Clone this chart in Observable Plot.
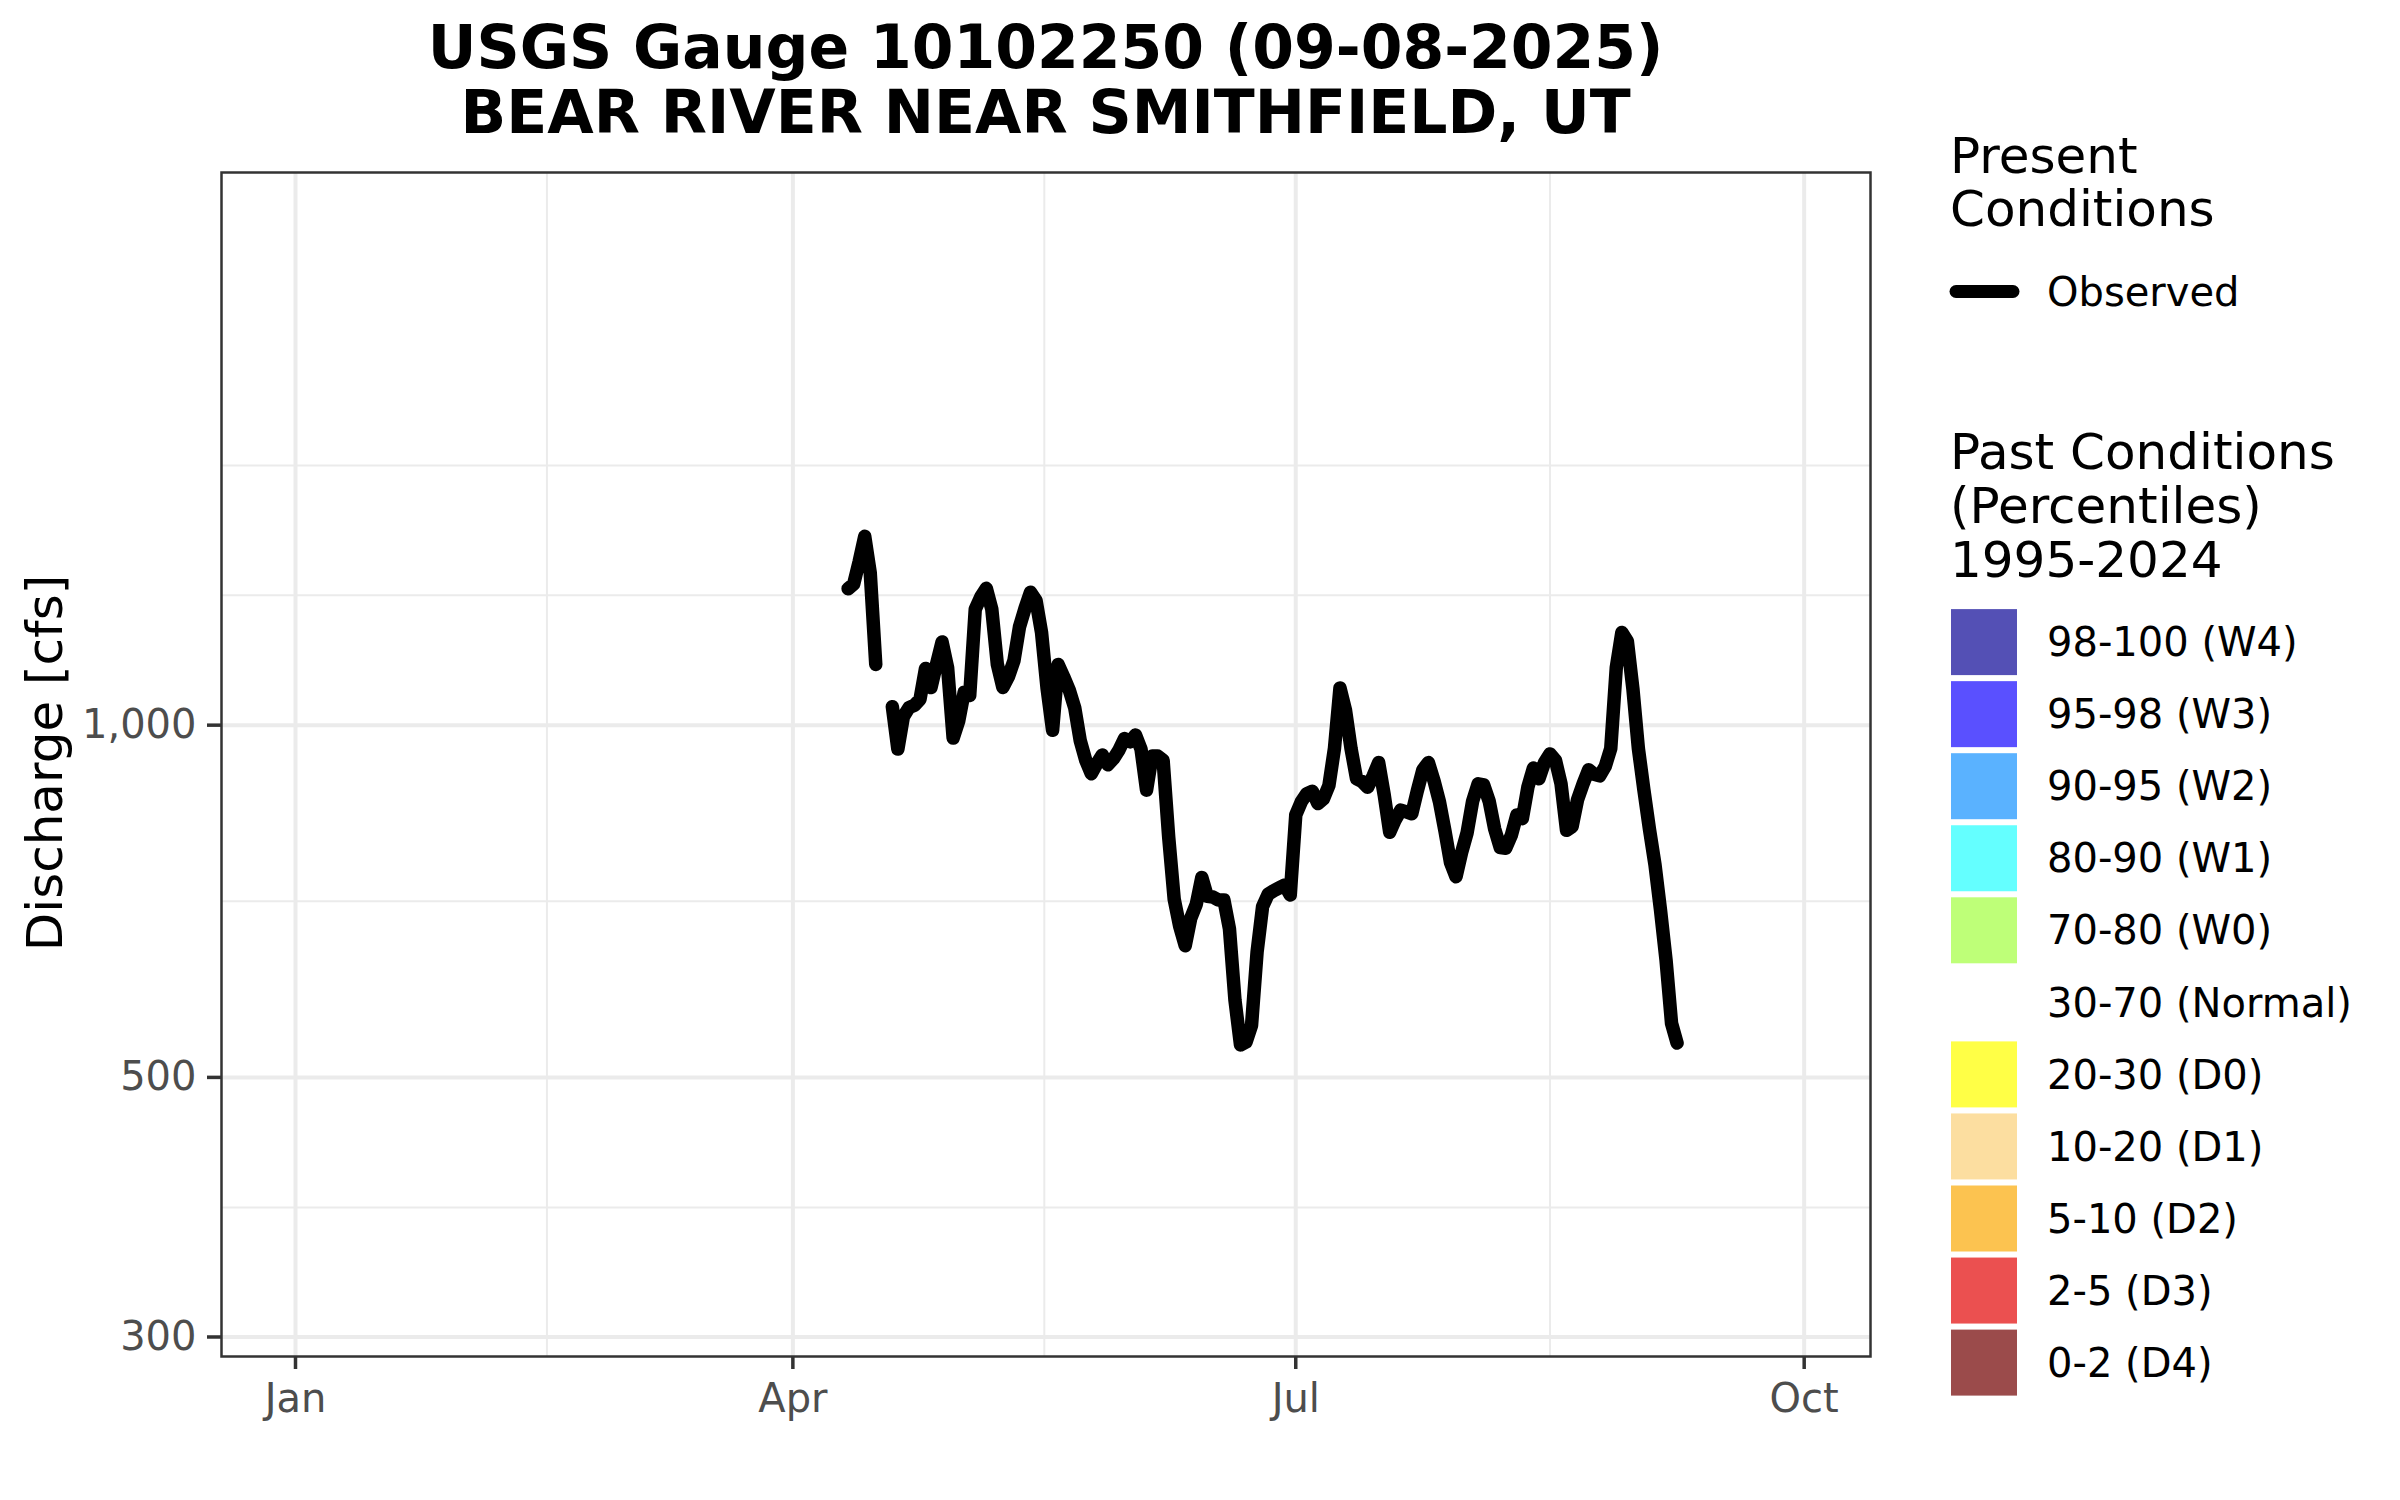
<!DOCTYPE html>
<html>
<head>
<meta charset="utf-8">
<script src="https://cdn.jsdelivr.net/npm/d3@7"></script>
<script src="https://cdn.jsdelivr.net/npm/@observablehq/plot@0.6"></script>
<style>
  body { margin: 0; background: #fff; }
  #wrap { position: relative; width: 2400px; height: 1500px; background: #fff; overflow: hidden;
          font-family: "DejaVu Sans", sans-serif; }
  #wrap svg { position: absolute; left: 0; top: 0; }
  .t { position: absolute; white-space: nowrap; line-height: 1; color: #000; }
</style>
</head>
<body>
<div id="wrap"></div>
<script>
// ---------------- data ----------------
const title1 = "USGS Gauge 10102250 (09-08-2025)";
const title2 = "BEAR RIVER NEAR SMITHFIELD, UT";
const yLabel = "Discharge [cfs]";

// daily mean discharge [cfs], one value per day starting at startDate (null = missing)
const startDate = "2025-04-11";
const discharge = [
  1308, 1320, 1380, 1450, 1350, 1127, null, null, 1037, 954,
  1017, 1035, 1040, 1052, 1118, 1077, 1128, 1178, 1120, 975,
  1008, 1067, 1060, 1256, 1287, 1309, 1256, 1127, 1077, 1100,
  1135, 1213, 1258, 1299, 1278, 1200, 1075, 990, 1127, 1100,
  1072, 1035, 970, 933, 909, 927, 943, 925, 936, 952,
  974, 968, 981, 954, 880, 941, 941, 933, 803, 710,
  673, 648, 684, 703, 741, 714, 713, 709, 709, 670,
  582, 533, 536, 554, 640, 700, 717, 722, 726, 730,
  716, 838, 860, 874, 878, 857, 865, 888, 955, 1076,
  1030, 955, 900, 895, 885, 905, 929, 872, 810, 830,
  846, 843, 840, 879, 916, 929, 897, 860, 812, 763,
  742, 778, 809, 861, 891, 889, 861, 815, 786, 785,
  805, 838, 832, 885, 919, 900, 929, 945, 933, 891,
  813, 819, 864, 891, 916, 908, 905, 922, 955, 1120,
  1200, 1180, 1075, 955, 880, 815, 760, 695, 630, 556,
  535
];

const xTicks = ["2025-01-01", "2025-04-01", "2025-07-01", "2025-10-01"];
const xTickLabels = ["Jan", "Apr", "Jul", "Oct"];
const xMinor = ["2025-02-15T12:00:00Z", "2025-05-16T12:00:00Z", "2025-08-16T00:00:00Z"];
const xDomain = ["2024-12-18T14:38:00Z", "2025-10-13T00:00:00Z"];

const yTicks = [300, 500, 1000];
const yMinor = [387, 707, 1291, 1667];
const yDomain = [288.7, 2967];

const presentTitle = ["Present", "Conditions"];
const presentLabels = ["Observed"];
const pastTitle = ["Past Conditions", "(Percentiles)", "1995-2024"];
const pastLabels = ["98-100 (W4)", "95-98 (W3)", "90-95 (W2)", "80-90 (W1)", "70-80 (W0)",
                    "30-70 (Normal)", "20-30 (D0)", "10-20 (D1)", "5-10 (D2)", "2-5 (D3)", "0-2 (D4)"];
const pastColors = ["#5450B5", "#5A50FF", "#5AB2FF", "#64FFFF", "#BEFF78",
                    "#FFFFFF", "#FFFF46", "#FCDEA0", "#FCC350", "#EB5050", "#9B4B4B"];

// ---------------- chart ----------------
const wrap = document.getElementById("wrap");
const parseUTC = s => new Date(s.length === 10 ? s + "T00:00:00Z" : s);
const start = parseUTC(startDate);
const data = discharge.map((v, i) => ({ date: d3.utcDay.offset(start, i), value: v }));
const xTickDates = xTicks.map(parseUTC);

const chart = Plot.plot({
  width: 1900,
  height: 1430,
  marginLeft: 221,
  marginRight: 30,
  marginTop: 172,
  marginBottom: 74,
  style: { fontFamily: "DejaVu Sans", fontSize: "40px", background: "transparent", color: "#4D4D4D", overflow: "visible" },
  x: { type: "utc", domain: xDomain.map(parseUTC) },
  y: { type: "log", domain: yDomain },
  marks: [
    Plot.ruleX(xMinor.map(parseUTC), { stroke: "#EBEBEB", strokeWidth: 2 }),
    Plot.ruleY(yMinor, { stroke: "#EBEBEB", strokeWidth: 2 }),
    Plot.ruleX(xTickDates, { stroke: "#EBEBEB", strokeWidth: 4 }),
    Plot.ruleY(yTicks, { stroke: "#EBEBEB", strokeWidth: 4 }),
    Plot.line(data, { x: "date", y: "value", stroke: "#000", strokeWidth: 13.5,
                      strokeLinecap: "round", strokeLinejoin: "round" }),
    Plot.frame({ stroke: "#333333", strokeWidth: 2.5 }),
    Plot.axisX({ ticks: xTickDates, tickFormat: d => xTickLabels[xTickDates.findIndex(t => +t === +d)],
                 tickSize: 13, tickPadding: 14, stroke: "#333333", strokeWidth: 3.5, fill: "#4D4D4D", label: null }),
    Plot.axisY({ ticks: yTicks, tickFormat: d3.format(","), tickSize: 14, tickPadding: 11,
                 stroke: "#333333", strokeWidth: 3.5, fill: "#4D4D4D", label: null })
  ]
});
wrap.appendChild(chart);

// ---------------- text helpers ----------------
function place(text, x, baseline, size, opts = {}) {
  const el = document.createElement("div");
  el.className = "t";
  el.textContent = text;
  el.style.fontSize = size + "px";
  el.style.left = x + "px";
  el.style.top = (baseline - 0.846 * size) + "px";
  if (opts.bold) el.style.fontWeight = "bold";
  if (opts.center) el.style.transform = "translateX(-50%)";
  if (opts.color) el.style.color = opts.color;
  wrap.appendChild(el);
  return el;
}

// title
place(title1, 1045.6, 68, 60, { bold: true, center: true });
place(title2, 1045.6, 133, 60, { bold: true, center: true });

// y-axis title (rotated)
const yl = document.createElement("div");
yl.className = "t";
yl.textContent = yLabel;
yl.style.fontSize = "50px";
yl.style.left = "19.7px";
yl.style.top = "763px";
yl.style.transformOrigin = "0 0";
yl.style.transform = "rotate(-90deg) translateX(-50%)";
wrap.appendChild(yl);

// legend: present conditions
presentTitle.forEach((s, i) => place(s, 1950, 173 + i * 53, 50));
const key = document.createElementNS("http://www.w3.org/2000/svg", "svg");
key.setAttribute("width", 2400); key.setAttribute("height", 1500);
key.style.position = "absolute"; key.style.left = "0"; key.style.top = "0";
const ln = document.createElementNS("http://www.w3.org/2000/svg", "line");
ln.setAttribute("x1", 1956); ln.setAttribute("x2", 2013);
ln.setAttribute("y1", 291.5); ln.setAttribute("y2", 291.5);
ln.setAttribute("stroke", "#000"); ln.setAttribute("stroke-width", 13);
ln.setAttribute("stroke-linecap", "round");
key.appendChild(ln);
pastColors.forEach((c, i) => {
  const r = document.createElementNS("http://www.w3.org/2000/svg", "rect");
  r.setAttribute("x", 1951); r.setAttribute("y", 609.1 + i * 72.05);
  r.setAttribute("width", 66); r.setAttribute("height", 66);
  r.setAttribute("fill", c);
  key.appendChild(r);
});
wrap.appendChild(key);
presentLabels.forEach((s, i) => place(s, 2047, 305.6 + i * 72, 40));

// legend: past conditions
pastTitle.forEach((s, i) => place(s, 1950, 469 + i * 54, 50));
pastLabels.forEach((s, i) => place(s, 2047, 609.1 + 33 + 14 + i * 72.05, 40));
</script>
</body>
</html>
